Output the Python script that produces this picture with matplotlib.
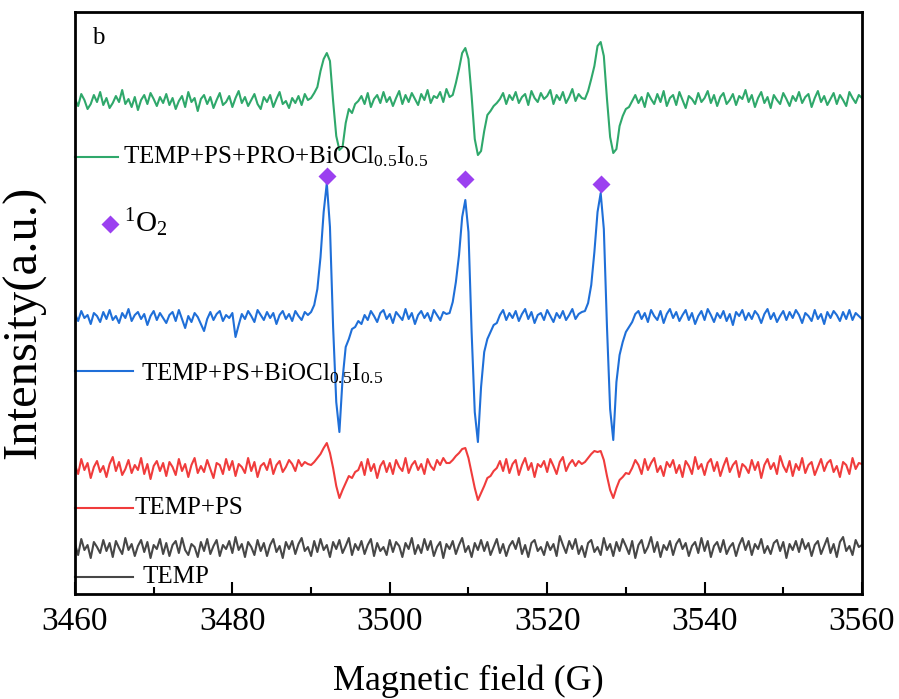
import numpy as np
import matplotlib
matplotlib.use("Agg")
import matplotlib.pyplot as plt

plt.rcParams["font.family"] = ["Liberation Serif", "DejaVu Serif"]
plt.rcParams["mathtext.fontset"] = "custom"
plt.rcParams["mathtext.rm"] = "Liberation Serif"
plt.rcParams["mathtext.it"] = "Liberation Serif:italic"

# Magnetic field sweep (G), 0.4 G per point
field = np.linspace(3460, 3560, 251)

# EPR signals (a.u.), relative to each trace's own baseline
temp_pro_cat = [
    2, -5, 7, 1, -8, -3, 6, -1, 9, -4,
    3, -7, -2, 5, -1, 11, -3, 2, -6, 4,
    -9, 1, 6, -3, 8, 2, -5, 4, -2, 7,
    -4, 3, -8, 0, 5, -6, 9, -1, 3, -10,
    2, 6, -3, 4, -7, 1, 8, -4, -1, 5,
    -6, 3, 10, -2, 4, -5, 1, 7, -3, -8,
    4, -1, 6, -6, 2, 9, -3, 0, -7, 3,
    -2, 5, -4, 7, 1, 3, 8, 14, 30, 42,
    48, 40, 0, -35, -49, -46, -22, -8, -12, -3,
    0, 5, -3, 8, -6, 2, 6, -2, 9, -1,
    4, -5, 3, 10, -3, 6, -1, 8, 2, -4,
    7, 1, 11, -2, 5, 3, 9, -1, 12, 4,
    6, 18, 32, 48, 53, 42, 5, -38, -54, -50,
    -30, -14, -10, -5, -2, 2, 8, -3, 6, 1,
    9, -2, 4, 7, -4, 10, 3, -1, 8, 2,
    5, 11, -3, 6, 1, 9, -2, 4, 12, 0,
    7, 3, 2, 10, 22, 35, 55, 59, 45, 2,
    -36, -52, -48, -25, -15, -8, -6, 0, 6, -2,
    4, -6, 8, 2, -3, 7, -1, 10, -5, 3,
    6, -4, 9, 1, -7, 5, 2, -3, 8, -1,
    3, 10, -2, 6, -5, 4, 8, -3, 1, 7,
    -4, 5, 2, 11, -1, 6, -6, 3, 9, -2,
    4, -7, 6, 1, -3, 8, 2, -5, 5, 0,
    9, -2, 4, 7, -6, 3, 10, -1, 5, -4,
    2, 8, -3, 6, 1, -5, 9, 3, -2, 6,
    3,
]

temp_ps_cat = [
    3, -4, 6, -1, 2, -7, 4, 1, -5, 5,
    -2, 7, -3, 1, -6, 4, -1, 8, -4, 2,
    5, -2, 3, -8, 1, 6, -3, 4, -1, -6,
    2, 5, -4, 7, -2, -11, 1, -5, 4, 0,
    -7, -14, -2, 5, -3, 3, 6, -4, 2, -1,
    4, -20, -8, 3, -2, 6, 1, -5, 7, 2,
    -3, 5, -1, 4, -7, 2, 6, -2, 3, -4,
    6, 1, -3, 5, 2, 5, 12, 28, 60, 105,
    134, 90, -10, -85, -115, -62, -30, -22, -12, -10,
    -4, -7, 2, -3, 6, 1, -5, 4, 7, -2,
    3, -6, 5, 1, -3, 8, -2, 4, -7, 2,
    6, -1, 4, -4, 7, 2, -3, 5, 3, 4,
    15, 35, 62, 100, 117, 85, -15, -95, -125, -70,
    -35, -22, -15, -8, -6, 2, 7, -3, 4, -1,
    6, -4, 3, 8, -2, 5, -6, 2, 4, -3,
    7, 1, -5, 4, -1, 6, -3, 2, 8, -2,
    3, 5, 6, 14, 32, 65, 105, 124, 88, -10,
    -92, -123, -65, -38, -25, -15, -10, -5, 3, 6,
    -2, 4, -5, 7, 1, -3, 6, -6, 3, 8,
    -1, 5, -4, 2, 7, -3, 4, -7, 1, 6,
    -3, 8, 2, -5, 4, -1, 6, -4, 3, -8,
    5, 1, 7, -3, 4, -2, 6, 2, -6, 3,
    8, -2, 4, -5, 1, 6, -3, 5, -1, 7,
    2, -6, 4, 1, -4, 7, -2, 3, -7, 5,
    -1, 6, 2, -4, 5, -2, 7, -3, 4, 1,
    -2,
]

temp_ps = [
    3, -6, 9, -2, 5, -10, 1, 7, -4, 2,
    -9, 4, 11, -3, 6, -7, -1, 8, -5, 3,
    -2, 10, -6, 4, -11, 2, 7, -3, 5, -8,
    6, 1, -7, 9, -3, 4, -9, 3, 10, -5,
    2, -4, 8, -1, -10, 5, 3, -6, 9, -2,
    7, -8, 4, 1, -5, 10, -3, 6, -9, 2,
    5, -2, 9, -6, 3, 7, -4, 1, 8, 4,
    -3, 8, 2, 6, 4, 3, 6, 10, 14, 20,
    25, 15, 0, -18, -30, -22, -15, -8, -10, -4,
    -2, 6, -7, 9, -3, 4, -10, 2, 7, -4,
    5, -6, 8, 1, -3, 10, -5, 3, 7, -2,
    4, -6, 9, 2, -2, 8, 3, 10, 5, 5,
    8, 12, 15, 19, 20, 10, -5, -20, -32, -25,
    -18, -10, -8, -3, 0, 7, -3, 9, -5, 4,
    8, -7, 3, 10, -2, 5, -9, 4, 1, 7,
    -4, 9, 2, -6, 6, 11, -3, 4, 8, 2,
    7, 4, 6, 10, 14, 17, 16, 17, 8, -8,
    -22, -30, -20, -12, -9, -5, -6, 0, 8, 3,
    -6, 9, -2, 5, 10, -4, 2, -8, 6, 1,
    8, -5, 3, -9, 7, 2, -6, 11, -1, 4,
    -7, 5, 9, -3, 6, -8, 2, 10, -4, 3,
    7, -9, 4, 1, -5, 8, -2, 6, -10, 3,
    9, -1, 5, -6, 12, 2, -4, 7, -8, 4,
    -2, 10, -5, 3, 6, -7, 1, 9, -3, 5,
    8, -4, 2, -9, 6, 3, -6, 10, -1, 5,
    4,
]

temp = [
    4, -7, 9, -2, 3, -10, 6, 1, -5, 8,
    -3, 5, -9, 7, 0, -6, 10, -2, 4, -8,
    2, 8, -4, 6, -10, 3, -1, 9, -6, 5,
    -8, 3, 7, -5, 10, -2, -7, 4, 1, -9,
    6, -3, 9, -6, 2, 8, -8, 3, -1, 7,
    -5, 11, -2, 4, -9, 6, 1, -7, 8, -3,
    5, -8, 3, 9, -4, 2, -10, 6, -1, 7,
    -6, 4, 10, -3, 1, -8, 7, -4, 9, -2,
    3, -9, 6, -1, 8, -5, 2, 10, -7, 4,
    -2, 7, -6, 3, 9, -8, 5, -3, 1, -7,
    8, -4, 6, 2, -9, 5, -1, 10, -6, 3,
    -5, 9, -2, 7, -8, 1, 6, -10, 4, -1,
    7, -6, 3, 10, -4, 2, -9, 5, -2, 8,
    -3, 6, -7, 1, 9, -5, 4, -8, 2, 7,
    -1, 10, -6, 3, -9, 5, 8, -3, 1, -7,
    6, -2, 4, -8, 12, 3, -5, 7, -1, 9,
    -6, 2, -9, 5, 8, -4, 1, -7, 10, -2,
    4, -8, 6, -3, 9, 2, -6, 7, -10, 3,
    8, -5, 1, 11, -4, 6, -9, 3, -2, 7,
    -7, 4, 9, -1, 5, -8, 2, 6, -5, 10,
    -3, 7, -9, 2, 6, -4, 8, -6, 1, 5,
    -8, 3, 10, -2, 7, -7, 4, -1, 9, -5,
    2, -6, 5, 8, -3, 6, -10, 4, -2, 7,
    -4, 9, -1, 5, -8, 3, 7, -6, 2, 10,
    -5, 4, -9, 6, 11, -3, 2, -7, 8, 1,
    3,
]

labels = ["TEMP+PS+PRO+BiOCl$_{0.5}$I$_{0.5}$",
          "TEMP+PS+BiOCl$_{0.5}$I$_{0.5}$",
          "TEMP+PS",
          "TEMP"]
baselines = [493, 277, 126, 46]
colors = ["#2FA86B", "#1F6FD8", "#F03C3C", "#474747"]

# singlet-oxygen adduct positions (G) and marker heights
o2_field = [3492.0, 3509.6, 3526.8]
o2_height = [418, 415, 410]

fig = plt.figure(figsize=(8.99, 6.99), dpi=100)
ax = fig.add_axes([0.0834, 0.1502, 0.8754, 0.8326])

for sig, base, col in zip([temp_pro_cat, temp_ps_cat, temp_ps, temp],
                          baselines, colors):
    ax.plot(field, np.asarray(sig) + base, color=col, lw=1.5)

ax.plot(o2_field, o2_height, linestyle="none", marker="D", ms=9,
        color="#9B40F0", mec="none")

# in-plot labels with line swatches
legend_rows = [
    (0.751, 0.055, 0.061, 0.751),
    (0.383, 0.074, 0.084, 0.378),
    (0.148, 0.074, 0.076, 0.148),
    (0.029, 0.074, 0.086, 0.029),
]
for (ly, lx1, tx, ty), lab, col in zip(legend_rows, labels, colors):
    ax.plot([0.0, lx1], [ly, ly], color=col, lw=1.5, transform=ax.transAxes,
            clip_on=False)
    ax.text(tx, ty, lab, transform=ax.transAxes, fontsize=18,
            va="center", ha="left")

ax.plot([0.0445], [0.636], transform=ax.transAxes, linestyle="none",
        marker="D", ms=9, color="#9B40F0", mec="none")
ax.text(0.062, 0.638, "$^{1}$O$_{2}$", transform=ax.transAxes, fontsize=21,
        va="center", ha="left")
ax.text(0.022, 0.955, "b", transform=ax.transAxes, fontsize=18,
        va="center", ha="left")

ax.set_xlim(3460, 3560)
ax.set_ylim(0, 582)
ax.set_xticks([3460, 3480, 3500, 3520, 3540, 3560])
ax.set_xticks(np.arange(3470, 3560, 20), minor=True)
ax.set_yticks([])
ax.tick_params(axis="x", which="major", direction="in", length=9, width=1.5,
               labelsize=24, pad=9)
ax.tick_params(axis="x", which="minor", direction="in", length=5, width=1.5)
for s in ax.spines.values():
    s.set_linewidth(2.0)
ax.set_xlabel("Magnetic field (G)", fontsize=26, labelpad=20)
ax.set_ylabel("Intensity(a.u.)", fontsize=35)
ax.yaxis.set_label_coords(-0.037, 0.467)

fig.savefig("out.png", dpi=100)
